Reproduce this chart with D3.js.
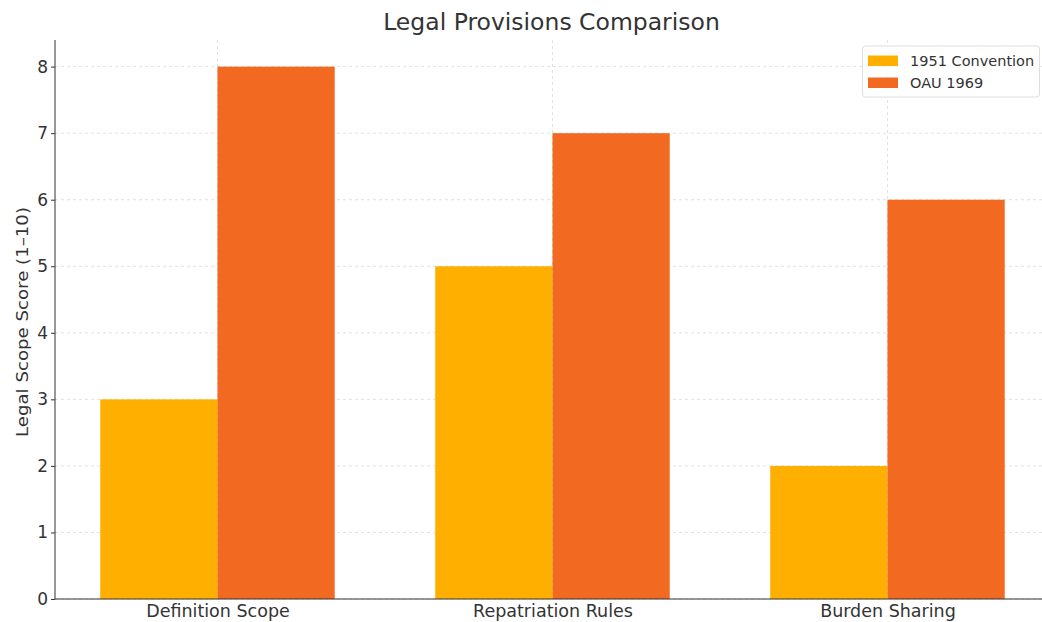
<!DOCTYPE html>
<html><head><meta charset="utf-8">
<script src="https://cdn.jsdelivr.net/npm/d3@7"></script>
<style>body{margin:0;background:#fff;} text{font-family:"DejaVu Sans",sans-serif;}</style>
</head><body><svg id="c" width="1042" height="622"></svg>
<script>
const categories = ["Definition Scope", "Repatriation Rules", "Burden Sharing"];
const seriesNames = ["1951 Convention", "OAU 1969"];
const convention1951 = [3, 5, 2];
const oau1969 = [8, 7, 6];
const yTicks = [0, 1, 2, 3, 4, 5, 6, 7, 8];
const colors = ["#FFAF00", "#F26A22"];

const svg = d3.select("#c");
const mLeft = 55, mBottom = 599, mTop = 40;
const x = d3.scaleLinear().domain([-0.485, 2.485]).range([mLeft, mLeft + 2.97 * 335]);
const y = d3.scaleLinear().domain([0, 8.4]).range([mBottom, mTop]);
const bw = 0.35;

// grid
svg.append("g").selectAll("line").data(yTicks).join("line")
  .attr("x1", mLeft).attr("x2", 1042).attr("y1", d => y(d)).attr("y2", d => y(d))
  .attr("stroke", "#d9d9d9").attr("stroke-dasharray", "3,3").attr("stroke-width", 0.8);
svg.append("g").selectAll("line").data(categories).join("line")
  .attr("x1", (d, i) => x(i)).attr("x2", (d, i) => x(i)).attr("y1", mTop).attr("y2", mBottom)
  .attr("stroke", "#d9d9d9").attr("stroke-dasharray", "3,3").attr("stroke-width", 0.8);

// bars
const series = [convention1951, oau1969];
series.forEach((vals, s) => {
  svg.append("g").selectAll("rect").data(vals).join("rect")
    .attr("x", (d, i) => x(i - bw + s * bw))
    .attr("width", x(bw) - x(0))
    .attr("y", d => y(d))
    .attr("height", d => y(0) - y(d))
    .attr("fill", colors[s]);
});

// axes
const yAxis = d3.axisLeft(y).tickValues(yTicks).tickFormat(d3.format("d")).tickSize(4).tickPadding(3);
const gy = svg.append("g").attr("transform", `translate(${mLeft},0)`).call(yAxis);
gy.select(".domain").attr("stroke", "#333").attr("d", `M0,${mTop}V${mBottom}`);
gy.selectAll(".tick line").attr("stroke", "#333");
gy.selectAll("text").attr("font-size", 17).attr("fill", "#333").style("font-family", "DejaVu Sans");

const xAxis = d3.axisBottom(x).tickValues([0, 1, 2]).tickFormat((d) => categories[d]).tickSize(0).tickPadding(6);
const gx = svg.append("g").attr("transform", `translate(0,${mBottom})`).call(xAxis);
gx.select(".domain").attr("stroke", "#333").attr("d", `M${mLeft},0H1042`);
gx.selectAll("text").attr("font-size", 17.5).attr("fill", "#333").style("font-family", "DejaVu Sans");

// title
svg.append("text").attr("x", 551.5).attr("y", 30).attr("text-anchor", "middle")
  .attr("font-size", 23.5).attr("fill", "#333").text("Legal Provisions Comparison");
// y label
svg.append("text").attr("transform", `translate(28,322) rotate(-90)`)
  .attr("text-anchor", "middle").attr("font-size", 16.5).attr("fill", "#333")
  .attr("textLength", 230).attr("lengthAdjust", "spacingAndGlyphs")
  .text("Legal Scope Score (1–10)");

// legend
const lg = svg.append("g");
lg.append("rect").attr("x", 862.5).attr("y", 46).attr("width", 177).attr("height", 51).attr("rx", 3)
  .attr("fill", "#fff").attr("fill-opacity", 0.8).attr("stroke", "#ddd");
seriesNames.forEach((n, i) => {
  lg.append("rect").attr("x", 868).attr("y", 55.5 + i * 22).attr("width", 30).attr("height", 10.5).attr("fill", colors[i]);
  lg.append("text").attr("x", 910).attr("y", 66 + i * 22).attr("font-size", 14.5).attr("fill", "#333").text(n);
});
</script></body></html>
